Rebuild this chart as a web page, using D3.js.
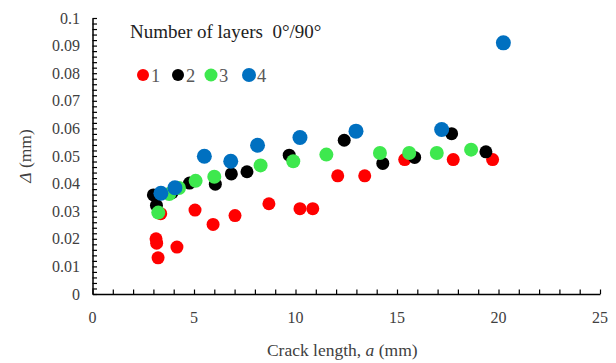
<!DOCTYPE html>
<html>
<head>
<meta charset="utf-8">
<script src="https://cdn.jsdelivr.net/npm/d3@7"></script>
<style>
  body { margin: 0; background: #fff; }
</style>
</head>
<body>
<svg></svg>
<script>
// Set variables

let seriesNames = ['1', '2', '3', '4']
let seriesColors = ['#ff0000', '#000000', '#3ee84e', '#0070c0']
let seriesRadius = [6.5, 6.5, 7, 7.5]
let fontFamily = "'Liberation Serif', 'Times New Roman', Times, serif"

// crack length a (mm) and deflection (mm) per series
let crack1 = [3.13, 3.16, 3.23, 4.16, 3.36, 5.05, 5.94, 7.02, 8.69, 10.22, 10.85, 12.08, 13.41, 15.38, 17.77, 19.71]
let delta1 = [0.0200, 0.0184, 0.0131, 0.0170, 0.0291, 0.0304, 0.0252, 0.0284, 0.0327, 0.0309, 0.0309, 0.0428, 0.0428, 0.0487, 0.0487, 0.0487]

let crack2 = [3.00, 3.15, 3.92, 4.78, 6.05, 6.84, 7.61, 9.69, 12.40, 14.30, 15.87, 17.69, 19.38]
let delta2 = [0.0359, 0.0321, 0.0367, 0.0402, 0.0398, 0.0435, 0.0443, 0.0503, 0.0557, 0.0473, 0.0495, 0.0581, 0.0515]

let crack3 = [3.24, 3.78, 4.26, 5.08, 6.00, 8.28, 9.89, 11.52, 14.16, 15.60, 16.96, 18.65]
let delta3 = [0.0295, 0.0362, 0.0384, 0.0410, 0.0425, 0.0466, 0.0481, 0.0505, 0.0511, 0.0511, 0.0511, 0.0523]

let crack4 = [3.37, 4.06, 5.51, 6.81, 8.13, 10.22, 12.98, 17.20, 20.24]
let delta4 = [0.0365, 0.0385, 0.0499, 0.0481, 0.0539, 0.0567, 0.0590, 0.0596, 0.0910]

let xTicks = [0, 5, 10, 15, 20, 25]
let yTicks = [0, 0.01, 0.02, 0.03, 0.04, 0.05, 0.06, 0.07, 0.08, 0.09, 0.1]

let width = 616
let height = 363
let padLeft = 92.5
let padRight = 600
let padTop = 18
let padBottom = 294

let svg = d3.select('svg')
let xScale
let yScale

let drawCanvas = () => {
    svg.attr('width', width)
    svg.attr('height', height)
       .attr('font-family', fontFamily)
}

let generateScales = () => {
    xScale = d3.scaleLinear().domain([0, 25]).range([padLeft, padRight])
    yScale = d3.scaleLinear().domain([0, 0.1]).range([padBottom, padTop])
}

// Axes: ticks point inward, minor every 1 mm / 0.002 mm

let generateAxes = () => {
    let xMinor = d3.range(0, 26, 1)
    let yMinor = d3.range(0, 51, 1).map((i) => i * 0.002)

    let xAxis = svg.append('g')
        .attr('transform', 'translate(0, ' + padBottom + ')')
        .call(d3.axisTop(xScale).tickValues(xMinor).tickSize(4.5).tickFormat('').tickSizeOuter(0))
    let yAxis = svg.append('g')
        .attr('transform', 'translate(' + padLeft + ', 0)')
        .call(d3.axisRight(yScale).tickValues(yMinor).tickSize(4.5).tickFormat('').tickSizeOuter(0))

    ;[xAxis, yAxis].forEach((g) => {
        g.select('.domain').attr('stroke', '#000').attr('stroke-width', 1.5)
        g.selectAll('.tick line').attr('stroke', '#000').attr('stroke-width', 1.2)
    })

    svg.append('g').selectAll('text')
        .data(xTicks)
        .enter()
        .append('text')
        .attr('x', (d) => xScale(d))
        .attr('y', padBottom + 29)
        .attr('text-anchor', 'middle')
        .attr('font-family', fontFamily)
        .attr('font-size', 16)
        .attr('fill', '#404040')
        .text((d) => d)

    svg.append('g').selectAll('text')
        .data(yTicks)
        .enter()
        .append('text')
        .attr('x', 80)
        .attr('y', (d) => yScale(d) + 5.5)
        .attr('text-anchor', 'end')
        .attr('font-family', fontFamily)
        .attr('font-size', 16)
        .attr('fill', '#404040')
        .text((d) => d3.format('~g')(d))

    let xt = svg.append('text')
        .attr('x', (padLeft + padRight) / 2 - 4)
        .attr('y', 356)
        .attr('text-anchor', 'middle')
        .attr('font-family', fontFamily)
        .attr('font-size', 17.5)
        .attr('fill', '#404040')
    xt.append('tspan').text('Crack length, ')
    xt.append('tspan').attr('font-style', 'italic').text('a')
    xt.append('tspan').text(' (mm)')

    let yt = svg.append('text')
        .attr('transform', 'translate(31, ' + 156 + ') rotate(-90)')
        .attr('text-anchor', 'middle')
        .attr('font-family', fontFamily)
        .attr('font-size', 17.5)
        .attr('fill', '#404040')
    yt.append('tspan').attr('font-style', 'italic').text('Δ')
    yt.append('tspan').text(' (mm)')
}

let drawCircles = () => {
    let series = [[crack1, delta1], [crack2, delta2], [crack3, delta3], [crack4, delta4]]
    series.forEach((s, i) => {
        svg.append('g').selectAll('circle')
            .data(d3.zip(s[0], s[1]))
            .enter()
            .append('circle')
            .attr('cx', (item) => xScale(item[0]))
            .attr('cy', (item) => yScale(item[1]))
            .attr('r', seriesRadius[i])
            .attr('fill', seriesColors[i])
    })
}

let drawLegend = () => {
    svg.append('text')
        .attr('x', 130)
        .attr('y', 38)
        .attr('font-family', fontFamily)
        .attr('font-size', 19)
        .attr('fill', '#222')
        .attr('xml:space', 'preserve')
        .text('Number of layers  0°/90°')

    let legendX = [143, 178, 211, 249]
    let items = svg.append('g').selectAll('g')
        .data(seriesNames)
        .enter()
        .append('g')
        .attr('transform', (d, i) => 'translate(' + legendX[i] + ', 75)')
    items.append('circle')
        .attr('r', (d, i) => seriesRadius[i] - 0.5)
        .attr('fill', (d, i) => seriesColors[i])
    items.append('text')
        .attr('x', 8)
        .attr('y', 6.5)
        .attr('font-family', fontFamily)
        .attr('font-size', 18.5)
        .attr('fill', '#595959')
        .text((d) => d)
}

drawCanvas()
generateScales()
generateAxes()
drawCircles()
drawLegend()
</script>
</body>
</html>
